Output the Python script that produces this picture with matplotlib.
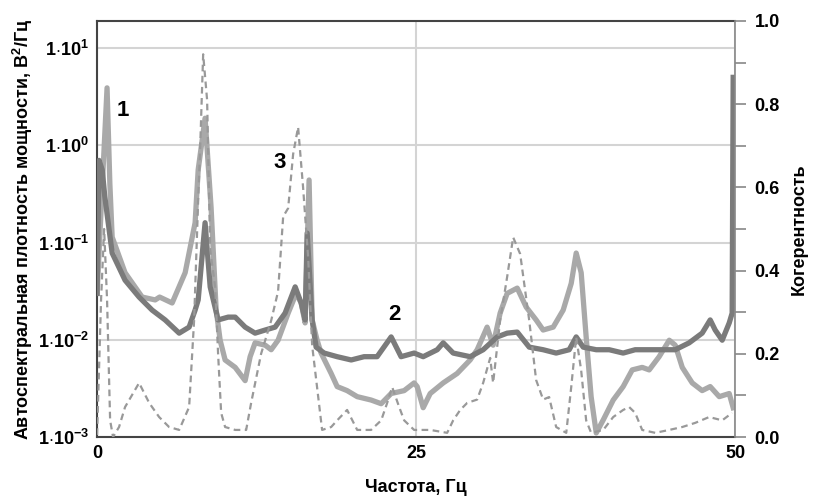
import numpy as np
import matplotlib.pyplot as plt
from matplotlib.ticker import FixedLocator, MultipleLocator

plt.rcParams['font.family'] = ['Liberation Sans', 'DejaVu Sans']
plt.rcParams['font.weight'] = 'bold'
plt.rcParams['mathtext.fontset'] = 'custom'
plt.rcParams['mathtext.rm'] = 'Liberation Sans:bold'
plt.rcParams['mathtext.bf'] = 'Liberation Sans:bold'

# curve 1 - autospectrum (light)
f1 = [0.0, 0.3, 0.78, 1.0, 1.18, 2.19, 3.53, 4.55, 4.9, 5.88, 6.9, 7.68, 7.92, 8.46, 8.93,
      9.33, 9.64, 10.03, 10.82, 11.6, 11.99, 12.38, 13.17, 13.64, 14.18, 14.97, 15.6, 15.99,
      16.3, 16.61, 16.85, 17.24, 17.55, 18.34, 18.81, 19.59, 20.38, 21.47, 22.26, 23.04,
      24.06, 24.84, 25.08, 25.55, 26.1, 27.12, 28.21, 29.23, 29.78, 30.56, 31.03, 31.58,
      32.13, 32.92, 33.62, 34.4, 34.95, 35.74, 36.52, 37.15, 37.54, 37.93, 38.32, 38.71,
      39.11, 39.66, 40.44, 41.22, 41.93, 42.71, 43.26, 44.04, 44.83, 45.3, 45.85, 46.63,
      47.41, 48.04, 48.75, 49.53, 49.84]
p1 = [0.03, 0.2, 3.9, 0.4, 0.114, 0.049, 0.0275, 0.0257, 0.0275, 0.0239, 0.049, 0.16, 0.56,
      1.9, 0.23, 0.0202, 0.0099, 0.0062, 0.0052, 0.0038, 0.0067, 0.0093, 0.0088, 0.0079,
      0.0099, 0.0188, 0.03, 0.0239, 0.0149, 0.44, 0.016, 0.0099, 0.0073, 0.0045, 0.0033,
      0.003, 0.0026, 0.0024, 0.0022, 0.0028, 0.003, 0.0036, 0.0033, 0.002, 0.0028, 0.0036,
      0.0045, 0.0062, 0.0079, 0.0135, 0.0088, 0.0188, 0.03, 0.034, 0.0217, 0.016, 0.0126,
      0.0135, 0.0202, 0.038, 0.078, 0.049, 0.0107, 0.0026, 0.0011, 0.0015, 0.0024, 0.0033,
      0.0049, 0.0052, 0.0049, 0.0067, 0.0099, 0.0088, 0.0052, 0.0036, 0.003, 0.0033,
      0.0026, 0.0028, 0.002]

# curve 2 - autospectrum (dark)
f2 = [0.0, 0.15, 0.4, 0.6, 1.18, 2.19, 3.29, 4.31, 5.33, 6.43, 7.21, 7.68, 7.92, 8.46, 8.86,
      9.48, 10.27, 10.82, 11.6, 12.38, 13.17, 13.95, 14.73, 15.52, 15.99, 16.3, 16.46, 16.85,
      17.16, 17.79, 18.81, 19.91, 20.92, 21.94, 23.04, 23.82, 24.84, 25.55, 26.65, 27.12,
      27.9, 29.23, 30.25, 31.35, 32.13, 32.92, 33.86, 34.95, 35.97, 36.99, 37.54, 38.09,
      39.11, 40.13, 41.22, 42.16, 43.26, 44.28, 45.3, 46.39, 47.41, 48.04, 48.43, 48.98,
      49.53, 49.76, 49.84]
p2 = [0.03, 0.7, 0.56, 0.3, 0.078, 0.041, 0.0275, 0.0202, 0.016, 0.0117, 0.0135, 0.0202,
      0.0257, 0.16, 0.035, 0.016, 0.0171, 0.0171, 0.0135, 0.0117, 0.0126, 0.0135, 0.0188,
      0.035, 0.0239, 0.016, 0.125, 0.016, 0.0084, 0.0073, 0.0067, 0.0062, 0.0067, 0.0067,
      0.0107, 0.0067, 0.0073, 0.0067, 0.0079, 0.0093, 0.0073, 0.0067, 0.0079, 0.0107,
      0.0117, 0.012, 0.0084, 0.0079, 0.0073, 0.0079, 0.0107, 0.0084, 0.0079, 0.0079,
      0.0073, 0.0079, 0.0079, 0.0079, 0.0079, 0.0093, 0.0117, 0.016, 0.0126, 0.0099,
      0.0149, 0.0188, 5.0]

# curve 3 - coherence (dashed, right axis)
f3 = [0.0, 0.31, 0.55, 0.78, 1.02, 1.25, 1.72, 2.19, 3.29, 4.08, 4.86, 5.64, 6.43, 7.21,
      7.6, 7.92, 8.07, 8.31, 8.62, 8.86, 9.25, 9.48, 9.72, 10.03, 10.82, 11.68, 12.07,
      12.85, 13.64, 14.18, 14.58, 14.97, 15.36, 15.75, 16.14, 16.54, 16.85, 17.63, 18.34,
      18.81, 19.59, 20.38, 21.47, 22.26, 22.73, 23.12, 23.67, 24.06, 24.84, 26.1, 27.43,
      27.9, 28.45, 29.0, 29.78, 30.25, 30.8, 31.03, 31.58, 32.13, 32.6, 33.15, 33.86,
      34.4, 34.95, 35.42, 35.97, 36.76, 37.15, 37.54, 37.93, 38.32, 38.71, 39.66, 40.44,
      41.22, 41.69, 42.16, 42.71, 43.73, 44.83, 45.85, 46.87, 47.96, 48.98, 49.76]
coh = [0.005, 0.33, 0.5, 0.33, 0.04, 0.0, 0.024, 0.072, 0.13, 0.082, 0.048, 0.024, 0.017,
       0.072, 0.28, 0.57, 0.69, 0.92, 0.81, 0.45, 0.36, 0.2, 0.058, 0.024, 0.017, 0.017,
       0.082, 0.2, 0.28, 0.35, 0.53, 0.55, 0.68, 0.745, 0.6, 0.43, 0.22, 0.017, 0.024,
       0.04, 0.065, 0.017, 0.017, 0.04, 0.082, 0.12, 0.072, 0.04, 0.017, 0.017, 0.01,
       0.04, 0.065, 0.082, 0.09, 0.13, 0.19, 0.13, 0.28, 0.385, 0.48, 0.44, 0.28, 0.137,
       0.09, 0.096, 0.024, 0.01, 0.12, 0.24, 0.16, 0.04, 0.01, 0.017, 0.048, 0.065, 0.072,
       0.058, 0.017, 0.01, 0.017, 0.024, 0.034, 0.048, 0.04, 0.058]

fig = plt.figure(figsize=(8.16, 5.0), dpi=100)
ax = fig.add_axes([0.119, 0.126, 0.782, 0.832])
ax.set_yscale('log')
ax.set_xlim(0, 50)
ax.set_ylim(1e-3, 19)

ax.plot(f1, p1, color='#a9a9a9', lw=3.8, solid_joinstyle='round', zorder=3)
ax.plot(f2, p2, color='#7b7b7b', lw=3.8, solid_joinstyle='round', zorder=4)

ax.yaxis.set_major_locator(FixedLocator([1e-3, 1e-2, 1e-1, 1e0, 1e1]))
ax.yaxis.set_minor_locator(FixedLocator([]))
ax.set_yticklabels([r'$1{\cdot}10^{-3}$', r'$1{\cdot}10^{-2}$', r'$1{\cdot}10^{-1}$',
                    r'$1{\cdot}10^{0}$', r'$1{\cdot}10^{1}$'])
ax.set_xticks([0, 25, 50])
ax.tick_params(axis='both', length=0, labelsize=13, pad=6)
ax.grid(True, which='major', color='#d4d4d4', lw=1.5)
ax.set_axisbelow(True)
for s in ['left', 'top', 'bottom']:
    ax.spines[s].set_color('#444444')
    ax.spines[s].set_linewidth(1.5)
ax.spines['right'].set_visible(False)

ax.set_xlabel('Частота, Гц', fontsize=13, fontweight='bold', labelpad=12)
ax.set_ylabel('Автоспектральная плотность мощности, В$^2$/Гц', fontsize=13,
              fontweight='bold', labelpad=2)

ax.text(2.04, 2.3, '1', fontsize=16, fontweight='bold', ha='center', va='center', zorder=6)
ax.text(14.3, 0.67, '3', fontsize=16, fontweight='bold', ha='center', va='center', zorder=6)
ax.text(23.3, 0.018, '2', fontsize=16, fontweight='bold', ha='center', va='center', zorder=6)

ax2 = ax.twinx()
ax2.plot(f3, coh, color='#999999', lw=1.6, ls=(0, (3, 2)), zorder=5)
ax2.set_ylim(0, 1)
ax2.yaxis.set_major_locator(MultipleLocator(0.2))
ax2.yaxis.set_minor_locator(MultipleLocator(0.1))
ax2.set_yticklabels(['%.1f' % v for v in ax2.get_yticks()])
ax2.tick_params(axis='y', which='both', direction='out', length=8, width=1.2,
                color='#888888', labelsize=13, pad=6)
ax2.spines['right'].set_color('#888888')
ax2.spines['right'].set_linewidth(1.2)
for s in ['left', 'top', 'bottom']:
    ax2.spines[s].set_visible(False)
ax2.set_ylabel('Когерентность', fontsize=13, fontweight='bold', labelpad=8)

fig.savefig('out.png', dpi=100)
